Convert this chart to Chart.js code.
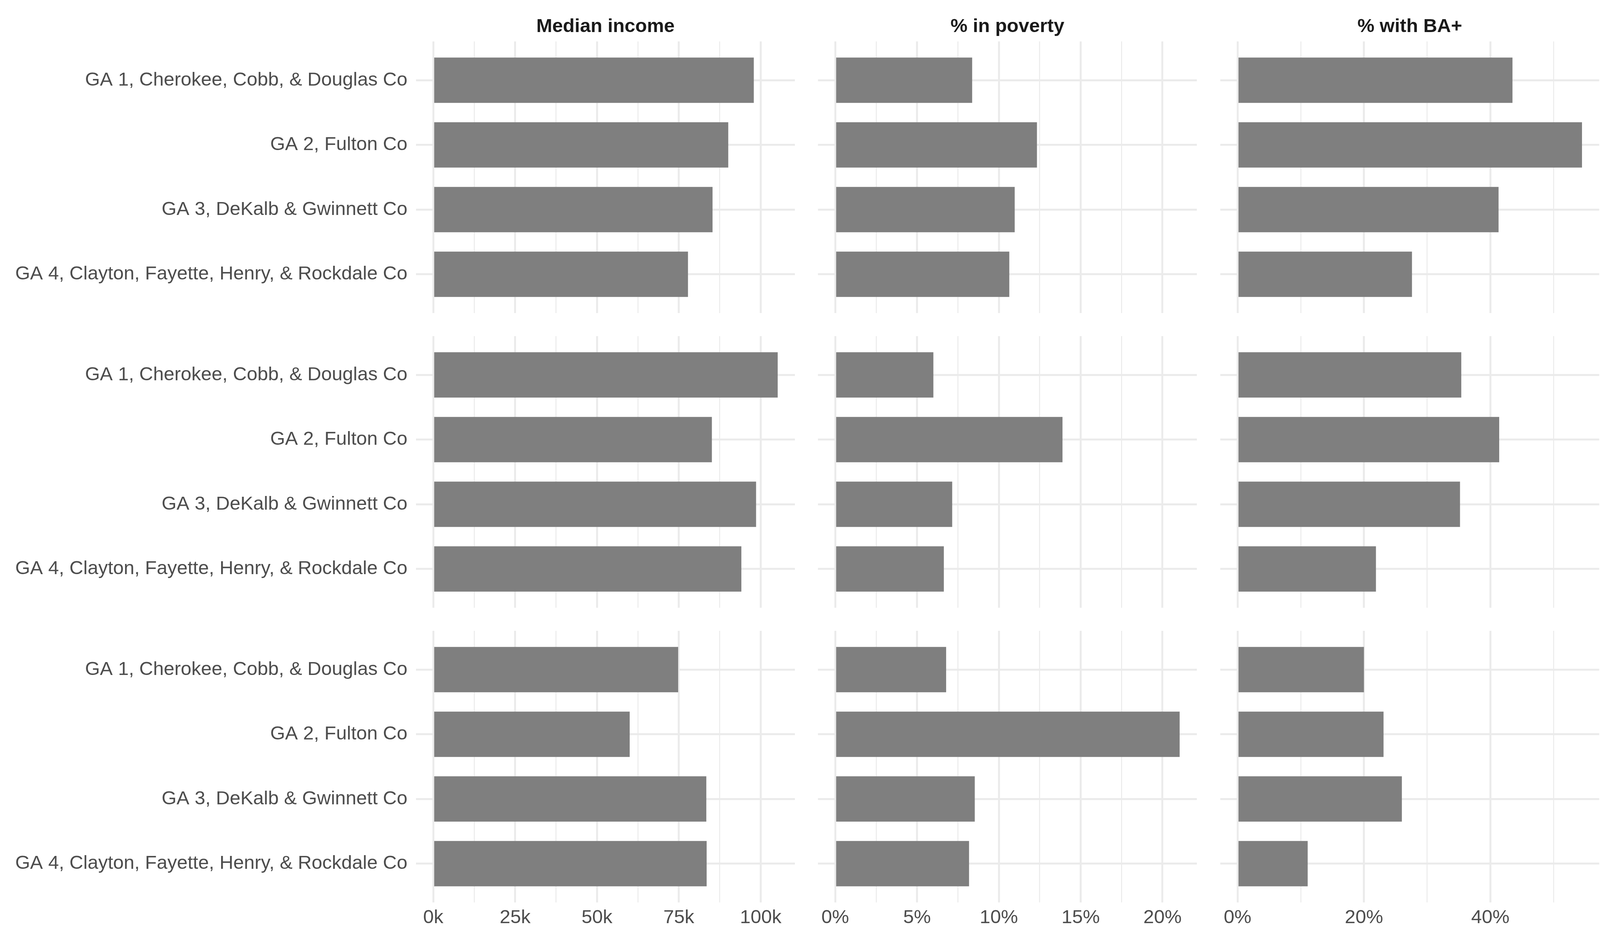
<!DOCTYPE html>
<html>
<head>
<meta charset="utf-8">
<title>Atlanta districts by decade</title>
<script src="https://cdn.jsdelivr.net/npm/chart.js@4.4.0/dist/chart.umd.min.js"></script>
<style>
  body { margin: 0; background: #fff; }
  #page { position: relative; width: 4200px; height: 2400px; overflow: hidden; font-family: "Liberation Sans", Arial, sans-serif; }
  .panel { position: absolute; }
  .colTitle, .rowTitle { position: absolute; font-weight: bold; font-size: 49px; color: #1a1a1a; white-space: nowrap; line-height: 1; }
  .colTitle { transform: translate(-50%, -50%); }
  .rowTitle { width: 120px; text-align: center; transform: translate(-50%, -50%) rotate(-90deg); }
</style>
</head>
<body>
<div id="page"></div>
<script>
const districts = [
  'GA 1, Cherokee, Cobb, & Douglas Co',
  'GA 2, Fulton Co',
  'GA 3, DeKalb & Gwinnett Co',
  'GA 4, Clayton, Fayette, Henry, & Rockdale Co'
];
const years = ['2020', '2000', '1980'];
const measures = ['Median income', '% in poverty', '% with BA+'];

const income2020 = [97900, 90100, 85300, 77800];
const income2000 = [105200, 85100, 98600, 94100];
const income1980 = [74800, 60000, 83400, 83500];

const poverty2020 = [8.37, 12.33, 10.97, 10.64];
const poverty2000 = [6.0, 13.89, 7.15, 6.64];
const poverty1980 = [6.78, 21.05, 8.53, 8.18];

const baPlus2020 = [43.5, 54.5, 41.3, 27.6];
const baPlus2000 = [35.4, 41.4, 35.2, 21.9];
const baPlus1980 = [20.0, 23.1, 26.0, 11.1];

const incomeTicks = [0, 25000, 50000, 75000, 100000];
const povertyTicks = [0, 5, 10, 15, 20];
const baPlusTicks = [0, 20, 40];

// layout of the facet grid, in page pixels
const panelTop = [106, 860, 1614];
const panelLeft = [1065, 2094, 3124];
const panelWidth = 970;
const panelHeight = 695;
const labelWidth = 1065;
const tickHeight = 91;

const gridColor = '#ebebeb';
const barColor = '#7f7f7f';
const page = document.getElementById('page');

Chart.defaults.font.family = '"Liberation Sans", Arial, sans-serif';
Chart.defaults.font.size = 49;
Chart.defaults.color = '#4d4d4d';

const columns = [
  { values: [income2020, income2000, income1980], ticks: incomeTicks, format: v => (v / 1000) + 'k' },
  { values: [poverty2020, poverty2000, poverty1980], ticks: povertyTicks, format: v => v + '%' },
  { values: [baPlus2020, baPlus2000, baPlus1980], ticks: baPlusTicks, format: v => v + '%' }
];

function minorTicks(major, max) {
  const step = major[1] - major[0];
  const out = [];
  major.forEach(m => {
    if (m + step / 2 < max) out.push(m + step / 2);
  });
  return out;
}

// stop chart.js from shrinking the plot area to make room for edge labels
function noPadding(s) {
  s.paddingTop = 0;
  s.paddingBottom = 0;
  s.paddingLeft = 0;
  s.paddingRight = 0;
}

function createPanel(row, col) {
  const column = columns[col];
  const values = column.values[row];
  const maxValue = Math.max(...column.values.flat());
  const xMin = -0.05 * maxValue;
  const xMax = 1.05 * maxValue;
  const majors = column.ticks;
  const allTicks = majors.concat(minorTicks(majors, xMax)).sort((a, b) => a - b);
  const isLeft = col === 0;
  const isBottom = row === years.length - 1;

  const div = document.createElement('div');
  div.className = 'panel';
  div.style.left = (isLeft ? 0 : panelLeft[col]) + 'px';
  div.style.top = panelTop[row] + 'px';
  div.style.width = (panelWidth + (isLeft ? labelWidth : 0)) + 'px';
  div.style.height = (panelHeight + (isBottom ? tickHeight : 0)) + 'px';
  const canvas = document.createElement('canvas');
  div.appendChild(canvas);
  page.appendChild(div);

  new Chart(canvas, {
    type: 'bar',
    data: {
      datasets: [{
        data: values.map((v, i) => ({ x: v, y: i + 1 })),
        backgroundColor: barColor,
        borderWidth: 0,
        barPercentage: 0.7,
        categoryPercentage: 1
      }]
    },
    options: {
      indexAxis: 'y',
      responsive: true,
      maintainAspectRatio: false,
      animation: false,
      layout: { padding: 0 },
      plugins: { legend: { display: false }, tooltip: { enabled: false } },
      scales: {
        x: {
          type: 'linear',
          min: xMin,
          max: xMax,
          bounds: 'data',
          offset: false,
          afterBuildTicks: s => { s.ticks = allTicks.map(v => ({ value: v })); },
          afterFit: s => { s.height = isBottom ? tickHeight : 0; noPadding(s); },
          grid: {
            offset: false,
            color: gridColor,
            lineWidth: ctx => (ctx.tick && majors.includes(ctx.tick.value)) ? 5 : 2.5,
            drawTicks: false
          },
          border: { display: false },
          ticks: {
            display: isBottom,
            autoSkip: false,
            maxRotation: 0,
            padding: 10,
            callback: v => majors.includes(v) ? column.format(v) : ''
          }
        },
        y: {
          type: 'linear',
          min: 0.4,
          max: 4.6,
          reverse: true,
          bounds: 'data',
          offset: false,
          afterBuildTicks: s => { s.ticks = districts.map((d, i) => ({ value: i + 1 })); },
          afterFit: s => { s.width = isLeft ? labelWidth : 0; noPadding(s); },
          grid: { offset: false, color: gridColor, lineWidth: 5, drawTicks: false },
          border: { display: false },
          ticks: {
            display: isLeft,
            autoSkip: false,
            padding: 22,
            callback: v => districts[v - 1]
          }
        }
      }
    }
  });
}

function addText(cls, text, x, y) {
  const el = document.createElement('div');
  el.className = cls;
  el.textContent = text;
  el.style.left = x + 'px';
  el.style.top = y + 'px';
  page.appendChild(el);
}

for (let r = 0; r < years.length; r++) {
  for (let c = 0; c < measures.length; c++) {
    createPanel(r, c);
  }
}
measures.forEach((m, c) => addText('colTitle', m, panelLeft[c] + panelWidth / 2, 65));
years.forEach((y, r) => addText('rowTitle', y, 4135, panelTop[r] + panelHeight / 2));
</script>
</body>
</html>
